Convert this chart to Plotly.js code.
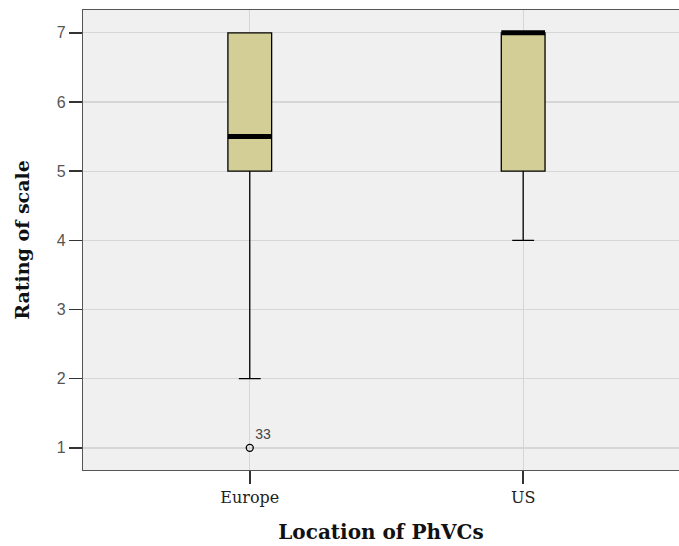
<!DOCTYPE html>
<html>
<head>
<meta charset="utf-8">
<script src="https://cdn.plot.ly/plotly-3.0.1.min.js"></script>
<style>html,body{margin:0;padding:0;background:#fff}#chart{width:679px;height:546px}</style>
</head>
<body>
<div id="chart"></div>
<script>
const categories = ['Europe', 'US'];
const q1 = [5, 5];
const median = [5.5, 7];
const q3 = [7, 7];
const lowerFence = [2, 4];
const upperFence = [7, 7];
const outlierCategory = ['Europe'];
const outlierValue = [1];
const outlierLabel = ['33'];
const yTicks = [1, 2, 3, 4, 5, 6, 7];

const pos = categories.map((c, i) => i);
const boxW = 0.16;

const traces = [];
traces.push({
  type: 'box',
  x: pos,
  q1: q1, median: median, q3: q3,
  lowerfence: lowerFence, upperfence: upperFence,
  width: boxW,
  whiskerwidth: 0.5,
  fillcolor: '#D2CE96',
  line: {color: '#000', width: 1.3},
  boxpoints: false,
  hoverinfo: 'skip',
  showlegend: false
});
// thick median lines
const mx = [], my = [];
median.forEach((m, i) => { mx.push(pos[i] - boxW / 2, pos[i] + boxW / 2, null); my.push(m, m, null); });
traces.push({
  type: 'scatter', mode: 'lines', x: mx, y: my,
  line: {color: '#000', width: 5}, hoverinfo: 'skip', showlegend: false
});
traces.push({
  type: 'scatter', mode: 'markers+text',
  x: outlierCategory.map(c => categories.indexOf(c)),
  y: outlierValue,
  text: outlierLabel,
  textposition: 'top right',
  textfont: {family: 'Liberation Sans, Arial, sans-serif', size: 14, color: '#444'},
  marker: {symbol: 'circle-open', size: 7, color: '#000', line: {width: 1.3, color: '#222'}},
  hoverinfo: 'skip', showlegend: false, cliponaxis: false
});

const layout = {
  width: 679, height: 546,
  margin: {l: 83, r: 0, t: 10, b: 76},
  paper_bgcolor: '#fff',
  plot_bgcolor: '#F0F0F0',
  showlegend: false,
  xaxis: {
    range: [-0.61, 1.57],
    tickvals: pos, ticktext: categories,
    ticks: 'outside', ticklen: 13, tickcolor: '#333', tickwidth: 1.5,
    showgrid: true, gridcolor: '#D6D6D6', gridwidth: 1.3,
    zeroline: false,
    showline: true, linecolor: '#555', linewidth: 1.2, mirror: true,
    tickfont: {family: 'DejaVu Serif, serif', size: 16, color: '#222'},
    title: {text: 'Location of PhVCs', font: {family: 'DejaVu Serif, serif', size: 20, color: '#111', weight: 'bold'}, standoff: 18}
  },
  yaxis: {
    range: [0.68, 7.33],
    tickvals: yTicks,
    ticks: 'outside', ticklen: 13, tickcolor: '#333', tickwidth: 1.5,
    showgrid: true, gridcolor: '#D6D6D6', gridwidth: 1.3,
    zeroline: false,
    showline: true, linecolor: '#555', linewidth: 1.2, mirror: true,
    tickfont: {family: 'Liberation Sans, Arial, sans-serif', size: 16, color: '#555'},
    title: {text: 'Rating of scale', font: {family: 'DejaVu Serif, serif', size: 19, color: '#111', weight: 'bold'}, standoff: 22}
  }
};

Plotly.newPlot('chart', traces, layout, {displayModeBar: false, staticPlot: true});
</script>
</body>
</html>
